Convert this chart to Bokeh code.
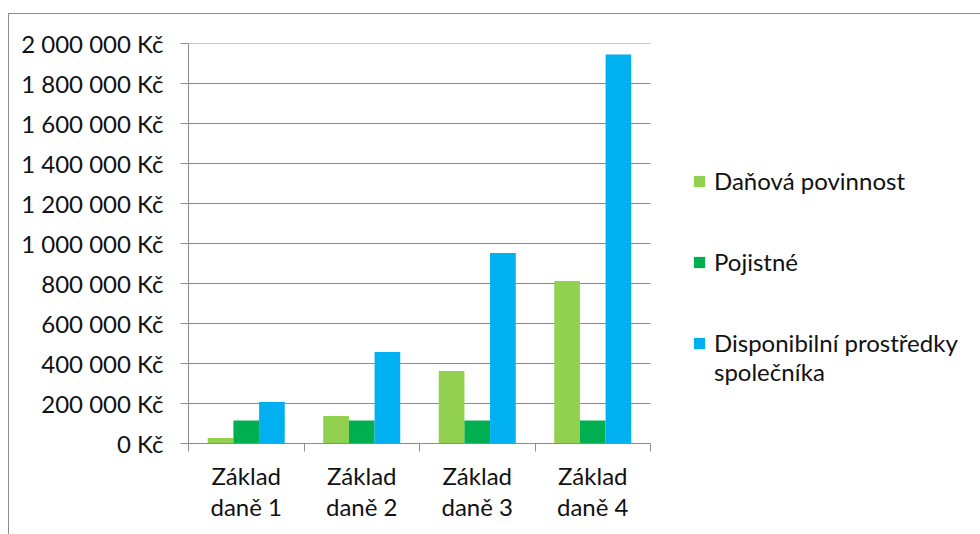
from bokeh.plotting import figure
from bokeh.models import FixedTicker, Legend, LegendItem, Range1d
from bokeh.embed import file_html
from bokeh.resources import INLINE

# Data
category_labels = ["Základ\ndaně 1", "Základ\ndaně 2", "Základ\ndaně 3", "Základ\ndaně 4"]
dan_povinnost = [27000, 138000, 363000, 812000]
pojistne = [115000, 115000, 115000, 115000]
disponibilni = [207000, 457000, 952000, 1945000]
series_names = ["Daňová povinnost", "Pojistné", "Disponibilní prostředky\nspolečníka"]
series_colors = ["#92D050", "#00B050", "#00B0F0"]
y_ticks = list(range(0, 2000001, 200000))

FONT = "Lato"
GRAY = "#8c8c8c"
TEXT = "#111111"

n = len(category_labels)
centers = [i + 0.5 for i in range(n)]
bounds = [float(i) for i in range(n + 1)]
bar_w = 0.2222

# Canvas layout: the plotting frame runs to the right edge so the legend can sit
# inside it; the category axis and the grid only cover the bar area.
W, H = 972, 521
BORDER_L, BORDER_T, BORDER_B = 179, 29, 92
BAR_AREA_PX = 462
frame_w = W - BORDER_L
x_end = n * frame_w / BAR_AREA_PX

p = figure(width=W, height=H, output_backend="svg", toolbar_location=None,
           x_range=Range1d(0, x_end), y_range=Range1d(0, 2000000),
           min_border_left=BORDER_L, min_border_right=0,
           min_border_top=BORDER_T, min_border_bottom=BORDER_B,
           margin=(13, 0, 0, 8),
           styles={"border-top": f"1px solid {GRAY}", "border-left": f"1px solid {GRAY}",
                   "box-sizing": "border-box"})
p.outline_line_color = None
p.background_fill_color = "white"
p.border_fill_color = "white"

# horizontal gridlines over the category span only
grid_vals = y_ticks[1:]
p.segment(x0=[0] * len(grid_vals), x1=[n] * len(grid_vals), y0=grid_vals, y1=grid_vals,
          line_color=GRAY, line_width=1)
p.xgrid.grid_line_color = None
p.ygrid.grid_line_color = None

renderers = []
for k, (vals, color) in enumerate(zip([dan_povinnost, pojistne, disponibilni], series_colors)):
    xs = [c + (k - 1) * bar_w for c in centers]
    r = p.vbar(x=xs, top=vals, width=bar_w, bottom=0, fill_color=color, line_color=None)
    renderers.append(r)

# y axis
p.yaxis.ticker = FixedTicker(ticks=y_ticks)
p.yaxis.major_label_overrides = {v: (f"{v:,}".replace(",", " ") + " Kč") for v in y_ticks}
p.yaxis.major_label_text_font = FONT
p.yaxis.major_label_text_font_size = "24px"
p.yaxis.major_label_text_color = TEXT
p.yaxis.major_label_standoff = 17
p.yaxis.major_tick_out = 8
p.yaxis.major_tick_in = 0
p.yaxis.minor_tick_out = 0
p.yaxis.minor_tick_in = 0
p.yaxis.axis_line_color = GRAY
p.yaxis.major_tick_line_color = GRAY

# x axis: labels at group centres, tick marks at group boundaries
p.xaxis.bounds = (0, n)
p.xaxis.ticker = FixedTicker(ticks=centers, minor_ticks=bounds)
p.xaxis.major_label_overrides = {c: lab for c, lab in zip(centers, category_labels)}
p.xaxis.major_label_text_font = FONT
p.xaxis.major_label_text_font_size = "24px"
p.xaxis.major_label_text_color = TEXT
p.xaxis.major_label_text_line_height = 1.1
p.xaxis.major_label_standoff = 9
p.xaxis.major_tick_out = 0
p.xaxis.major_tick_in = 0
p.xaxis.minor_tick_out = 8
p.xaxis.minor_tick_in = 0
p.xaxis.minor_tick_line_color = GRAY
p.xaxis.axis_line_color = GRAY

legend_style = dict(orientation="vertical", glyph_width=14, glyph_height=14,
                    label_standoff=8, padding=0, margin=0, border_line_color=None,
                    background_fill_alpha=0, label_text_font=FONT,
                    label_text_font_size="24px", label_text_color=TEXT)

legend_a = Legend(items=[LegendItem(label=series_names[i], renderers=[renderers[i]]) for i in (0, 1)],
                  location=(504, 167), spacing=52, **legend_style)
# the swatch of the wrapped entry lines up with its first text line
legend_b = Legend(items=[LegendItem(label="\n" + series_names[2], renderers=[renderers[2]])],
                  location=(504, 57), label_text_line_height=1.15, **legend_style)
p.add_layout(legend_a, "center")
p.add_layout(legend_b, "center")

open("out.html", "w").write(file_html(p, INLINE))
